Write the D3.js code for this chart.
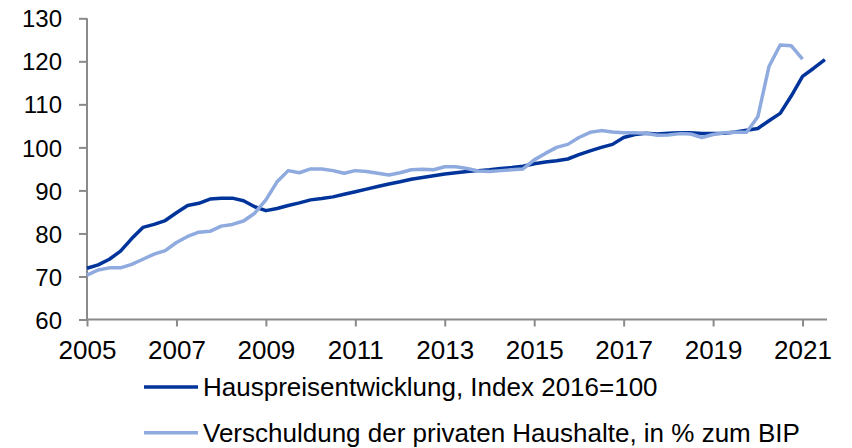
<!DOCTYPE html>
<html>
<head>
<meta charset="utf-8">
<script src="https://cdn.jsdelivr.net/npm/d3@7"></script>
<style>
  body { margin: 0; background: #fff; }
  svg { display: block; font-family: "Liberation Sans", Arial, sans-serif; }
</style>
</head>
<body>
<svg id="chart" width="852" height="448"></svg>
<script>
// quarterly values, first quarter 2005
var hauspreis = [
  71.9, 72.7, 74.0, 75.9, 78.8, 81.4, 82.1, 83.0,
  84.8, 86.5, 87.0, 88.0, 88.2, 88.2, 87.6, 86.2,
  85.3, 85.8, 86.5, 87.1, 87.8, 88.1, 88.5, 89.1,
  89.7, 90.3, 90.9, 91.5, 92.0, 92.6, 93.0, 93.4,
  93.8, 94.1, 94.4, 94.6, 94.8, 95.1, 95.3, 95.6,
  96.2, 96.6, 96.9, 97.3, 98.3, 99.2, 100.0, 100.7,
  102.3, 103.0, 103.3, 103.1, 103.3, 103.4, 103.4, 103.2,
  103.2, 103.3, 103.6, 104.0, 104.4, 106.2, 107.9, 112.0,
  116.5, 118.4, 120.4
];
var verschuldung = [
  70.3, 71.5, 72.0, 72.0, 72.8, 74.0, 75.2, 76.0,
  77.9, 79.3, 80.3, 80.5, 81.7, 82.1, 82.9, 84.7,
  87.8, 92.0, 94.6, 94.1, 95.0, 95.0, 94.6, 94.0,
  94.6, 94.4, 94.0, 93.6, 94.1, 94.8, 94.9, 94.8,
  95.5, 95.5, 95.1, 94.5, 94.4, 94.6, 94.8, 95.0,
  97.1, 98.6, 100.0, 100.7, 102.3, 103.5, 103.9, 103.6,
  103.4, 103.4, 103.3, 102.8, 102.9, 103.2, 103.1, 102.3,
  103.0, 103.4, 103.5, 103.5, 107.1, 118.8, 123.8, 123.6,
  120.5
];
var yearTicks = [2005, 2007, 2009, 2011, 2013, 2015, 2017, 2019, 2021];
var valueTicks = [60, 70, 80, 90, 100, 110, 120, 130];
var legendLabels = [
  "Hauspreisentwicklung, Index 2016=100",
  "Verschuldung der privaten Haushalte, in % zum BIP"
];
var colors = ["#00349b", "#8eaade"];

var svg = d3.select('#chart');
var x = d3.scaleLinear().domain([2005, 2021.5]).range([87, 824.9]);
var y = d3.scaleLinear().domain([60, 130]).range([319.5, 18.3]);
var axisColor = '#8a8a8a';

function quarterDate(i) { return 2005 + i / 4; }

// y axis
var yAxis = svg.append('g')
  .attr('transform', 'translate(87,0)')
  .call(d3.axisLeft(y).tickValues(valueTicks).tickSize(8).tickPadding(17));
yAxis.select('.domain').attr('stroke', axisColor).attr('stroke-width', 2)
  .attr('d', 'M0,' + y(130) + 'V' + y(60));
yAxis.selectAll('.tick line').attr('stroke', axisColor).attr('stroke-width', 2);
yAxis.selectAll('.tick text').attr('fill', '#000').style('font-size', '24px')
  .attr('dy', '0.36em');

// x axis
var xAxis = svg.append('g')
  .attr('transform', 'translate(0,' + y(60) + ')')
  .call(d3.axisBottom(x).tickValues(yearTicks).tickFormat(d3.format('d')).tickSize(7).tickPadding(14));
xAxis.select('.domain').attr('stroke', axisColor).attr('stroke-width', 2)
  .attr('d', 'M87,0H827');
xAxis.selectAll('.tick line').attr('stroke', axisColor).attr('stroke-width', 2);
xAxis.selectAll('.tick text').attr('fill', '#000').style('font-size', '26px');

var line = d3.line()
  .x(function(d, i) { return x(quarterDate(i)); })
  .y(function(d) { return y(d); });

[hauspreis, verschuldung].forEach(function(series, k) {
  svg.append('path')
    .datum(series)
    .attr('fill', 'none')
    .attr('stroke', colors[k])
    .attr('stroke-width', 3.5)
    .attr('stroke-linejoin', 'round')
    .attr('d', line);
});

// legend
var legend = svg.append('g');
legendLabels.forEach(function(label, k) {
  var ly = 387 + k * 45.7;
  legend.append('line')
    .attr('x1', 144).attr('x2', 198)
    .attr('y1', ly).attr('y2', ly)
    .attr('stroke', colors[k]).attr('stroke-width', 3.5);
  legend.append('text')
    .attr('x', 203).attr('y', ly + 9.3)
    .style('font-size', '26px')
    .attr('fill', '#000')
    .text(label);
});
</script>
</body>
</html>
